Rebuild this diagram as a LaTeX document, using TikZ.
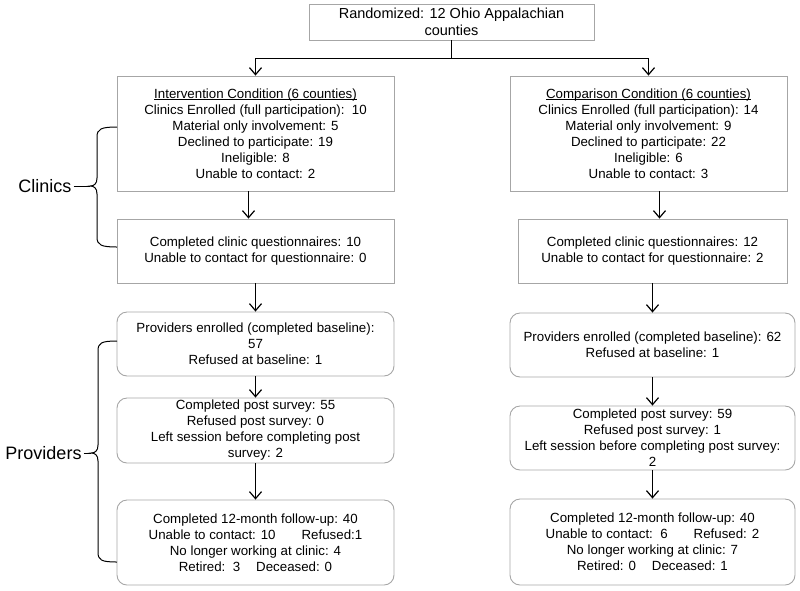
\documentclass[tikz,border=0pt]{standalone}
\usepackage{fontspec}
\setmainfont{Liberation Sans}
\usetikzlibrary{arrows.meta}
\newcommand\myul[1]{\setbox0\hbox{#1}\rlap{\raisebox{-2pt}{\rule{\wd0}{0.9pt}}}\box0}
\begin{document}
\begin{tikzpicture}[x=1pt,y=-1pt,
  box/.style={draw=black!35, line width=0.9pt, align=center, inner sep=0pt,
    font=\fontsize{13.3}{16}\selectfont},
  rbox/.style={box, rounded corners=10pt},
  conn/.style={draw=black, line width=1.3pt},
  arr/.style={conn, -{Straight Barb[length=7pt,width=12pt,line width=1.2pt]}},
  lbl/.style={font=\fontsize{18}{20}\selectfont, inner sep=2pt},
  brc/.style={draw=black, line width=1pt}]
\useasboundingbox (0,0) rectangle (800,590);

\node[box, minimum width=285pt, minimum height=36pt, font=\fontsize{14.5}{17}\selectfont] (top) at (451.5,22)
  {Randomized: 12 Ohio Appalachian\\counties};

\node[box, minimum width=277pt, minimum height=115pt] (int) at (255.5,133.5)
  {\myul{Intervention Condition (6 counties)}\\
   Clinics Enrolled (full participation):\ \ 10\\
   Material only involvement: 5\\
   Declined to participate: 19\\
   Ineligible: 8\\
   Unable to contact: 2};
\node[box, minimum width=277pt, minimum height=115pt] (comp) at (648.5,133.5)
  {\myul{Comparison Condition (6 counties)}\\
   Clinics Enrolled (full participation): 14\\
   Material only involvement: 9\\
   Declined to participate: 22\\
   Ineligible: 6\\
   Unable to contact: 3};

\node[box, minimum width=277pt, minimum height=64pt] (int2) at (255.5,251)
  {Completed clinic questionnaires: 10\\
   Unable to contact for questionnaire: 0};
\node[box, minimum width=269pt, minimum height=64pt] (comp2) at (652.5,251)
  {Completed clinic questionnaires: 12\\
   Unable to contact for questionnaire: 2};

\node[rbox, minimum width=277pt, minimum height=64pt] (prov1) at (255.5,344)
  {Providers enrolled (completed baseline):\\
   57\\
   Refused at baseline: 1};
\node[rbox, minimum width=285pt, minimum height=64pt] (prov1r) at (652.5,345)
  {Providers enrolled (completed baseline): 62\\
   Refused at baseline: 1};

\node[rbox, minimum width=277pt, minimum height=65pt] (prov2) at (255.5,430.5)
  {Completed post survey: 55\\
   Refused post survey: 0\\
   Left session before completing post\\
   survey: 2};
\node[rbox, minimum width=285pt, minimum height=64pt] (prov2r) at (652.5,438)
  {Completed post survey: 59\\
   Refused post survey: 1\\
   Left session before completing post survey:\\
   2};

\node[rbox, minimum width=277pt, minimum height=85pt] (prov3) at (255.5,542.5)
  {Completed 12-month follow-up: 40\\
   Unable to contact: 10\hspace{26pt}Refused:1\\
   No longer working at clinic: 4\\
   Retired:\ \ 3\hspace{16pt}Deceased: 0};
\node[rbox, minimum width=285pt, minimum height=86pt] (prov3r) at (652.5,542)
  {Completed 12-month follow-up: 40\\
   Unable to contact:\ \ 6\hspace{26pt}Refused: 2\\
   No longer working at clinic: 7\\
   Retired: 0\hspace{16pt}Deceased: 1};

% connectors
\draw[conn] (top.south) -- ++(0,18) coordinate (j);
\draw[arr] (j) -| (int.north);
\draw[arr] (j) -| (comp.north);
\draw[arr] ([xshift=-7pt]int.south) -- ([xshift=-7pt]int.south |- int2.north);
\draw[arr] ([xshift=11pt]comp.south) -- ([xshift=11pt]comp.south |- comp2.north);
\draw[arr] (int2.south) -- (prov1.north);
\draw[arr] (comp2.south) -- (comp2.south |- prov1r.north);
\draw[arr] (prov1.south) -- (prov2.north);
\draw[arr] (prov2.south) -- (prov3.north);
\draw[arr] (prov1r.south) -- (prov2r.north);
\draw[arr] (prov2r.south) -- (prov3r.north);

% side labels and braces
\node[lbl] (clin) at (45,186) {Clinics};
\node[lbl] (prov) at (43.5,453) {Providers};

\draw[brc] (117,127) .. controls (101,127) and (97,129) .. (97,137)
  -- (97,178) .. controls (97,184) and (94,186) .. (90,186)
  .. controls (94,186) and (97,188) .. (97,194)
  -- (97,237) .. controls (97,245) and (101,247) .. (117,247);
\draw[brc] (clin.east) -- (90,186);

\draw[brc] (117,341) .. controls (101,341) and (98,343) .. (98,351)
  -- (98,445) .. controls (98,451) and (95,453) .. (91,453)
  .. controls (95,453) and (98,455) .. (98,461)
  -- (98,552) .. controls (98,560) and (101,562) .. (117,562);
\draw[brc] (prov.east) -- (91,453);
\end{tikzpicture}
\end{document}
